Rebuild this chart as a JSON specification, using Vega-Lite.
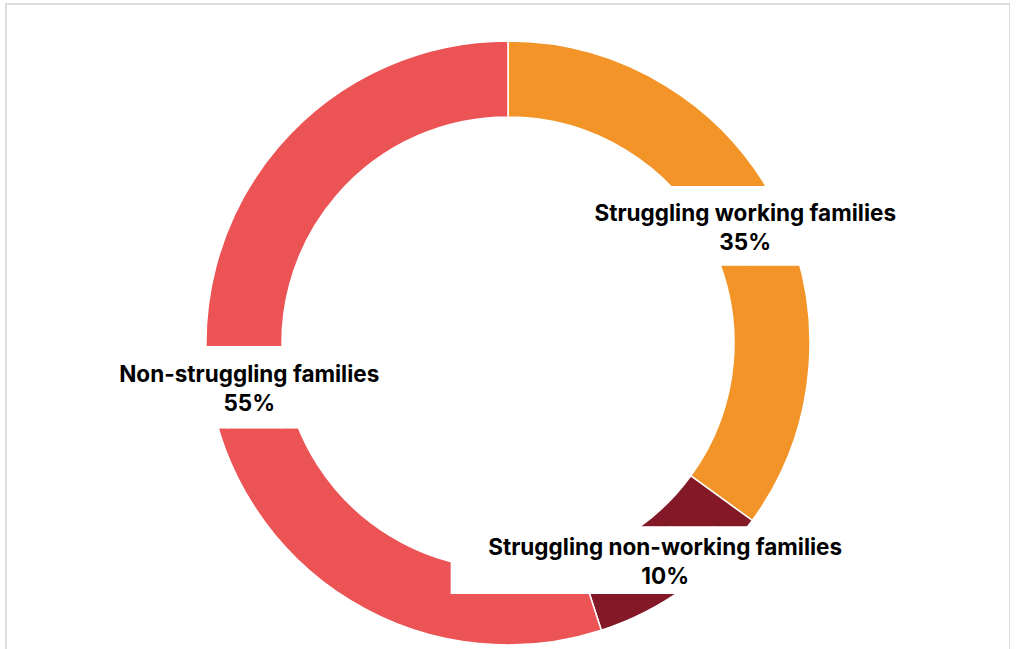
{
  "$schema": "https://vega.github.io/schema/vega-lite/v6.json",
  "width": 1004,
  "height": 678,
  "autosize": "none",
  "padding": {"left": 6, "top": 4, "right": 0, "bottom": 0},
  "background": "white",
  "view": {"stroke": "#d2d2d2", "strokeWidth": 1.5},
  "config": {
    "style": {"cell": {"stroke": "#d2d2d2", "strokeWidth": 1.5, "strokeDash": [1004, 1682], "strokeDashOffset": 0}}
  },
  "data": {
    "values": [
      {"category": "Struggling working families", "share": 35},
      {"category": "Struggling non-working families", "share": 10},
      {"category": "Non-struggling families", "share": 55}
    ]
  },
  "transform": [
    {"window": [{"op": "row_number", "as": "idx"}]},
    {"calculate": "[datum.category, datum.share + '%']", "as": "label"}
  ],
  "layer": [
    {
      "mark": {"type": "arc", "outerRadius": 302, "innerRadius": 226, "stroke": "white", "strokeWidth": 1.5},
      "encoding": {
        "theta": {"field": "share", "type": "quantitative", "stack": true},
        "order": {"field": "idx", "type": "quantitative"},
        "color": {
          "field": "category",
          "type": "nominal",
          "scale": {
            "domain": ["Struggling working families", "Struggling non-working families", "Non-struggling families"],
            "range": ["#F29427", "#831826", "#EC5355"]
          },
          "legend": null
        }
      }
    },
    {
      "mark": {"type": "text", "radius": 264, "font": "DejaVu Sans", "fill": "white", "align": "center", "baseline": "middle", "dx": 7.5, "dy": 6},
      "encoding": {
        "theta": {"field": "share", "type": "quantitative", "stack": true},
        "order": {"field": "idx", "type": "quantitative"},
        "size": {
          "condition": [
            {"test": "datum.category === 'Struggling non-working families'", "value": 57},
            {"test": "datum.category === 'Non-struggling families'", "value": 69.5}
          ],
          "value": 67
        },
        "text": {
          "condition": [
            {"test": "datum.category === 'Struggling non-working families'", "value": "██████████"},
            {"test": "datum.category === 'Non-struggling families'", "value": "███████"}
          ],
          "value": "████████"
        }
      }
    },
    {
      "mark": {"type": "text", "radius": 264, "font": "Inter", "fontWeight": "bold", "fontSize": 22.5, "lineHeight": 29, "fill": "black", "align": "center", "baseline": "middle", "dx": 2, "dy": -9},
      "encoding": {
        "theta": {"field": "share", "type": "quantitative", "stack": true},
        "order": {"field": "idx", "type": "quantitative"},
        "text": {"field": "label"}
      }
    }
  ]
}
